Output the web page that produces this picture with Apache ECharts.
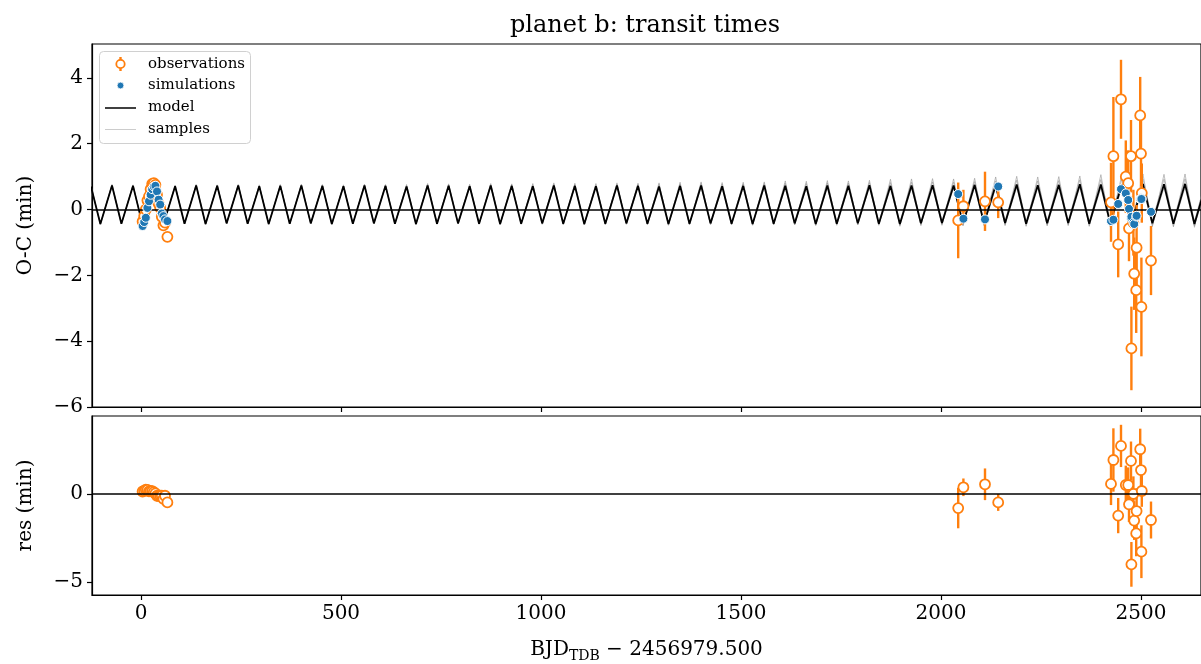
<!DOCTYPE html>
<html>
<head>
<meta charset="utf-8">
<script src="https://cdn.jsdelivr.net/npm/echarts@6/dist/echarts.min.js"></script>
<style>
    html, body { margin: 0; padding: 0; background: #fff; }
    #chart { width: 1201px; height: 664px; }
</style>
</head>
<body>
<div id="chart"></div>
<script>
// model curve: turning points (peak, trough, ...)
const modelTime = [
    -125.1, -101.6, -72.5, -49.0, -19.9, 3.6, 32.7, 56.2, 85.3, 108.8, 137.9, 161.4, 190.5, 214.0, 243.1, 266.6,
    295.7, 319.2, 348.3, 371.8, 400.9, 424.4, 453.5, 477.0, 506.1, 529.6, 558.7, 582.2, 611.3, 634.8, 663.9, 687.4,
    716.5, 740.0, 769.1, 792.6, 821.7, 845.2, 874.3, 897.8, 926.9, 950.4, 979.5, 1003.0, 1032.1, 1055.6, 1084.7, 1108.2,
    1137.3, 1160.8, 1189.9, 1213.4, 1242.5, 1266.0, 1295.1, 1318.6, 1347.7, 1371.2, 1400.3, 1423.8, 1452.9, 1476.4,
    1505.5, 1529.0, 1558.1, 1581.6, 1610.7, 1634.2, 1663.3, 1686.8, 1715.9, 1739.4, 1768.5, 1792.0, 1821.1, 1844.6,
    1873.7, 1897.2, 1926.3, 1949.8, 1978.9, 2002.4, 2031.5, 2055.0, 2084.1, 2107.6, 2136.7, 2160.2, 2189.3, 2212.8,
    2241.9, 2265.4, 2294.5, 2318.0, 2347.1, 2370.6, 2399.7, 2423.2, 2452.3, 2475.8, 2504.9, 2528.4, 2557.5, 2581.0,
    2610.1, 2633.6, 2662.7
]
const modelOC = [
    0.70, -0.44, 0.73, -0.43, 0.72, -0.45, 0.74, -0.44, 0.71, -0.43, 0.73, -0.44, 0.72, -0.42, 0.73, -0.43,
    0.71, -0.44, 0.72, -0.43, 0.73, -0.42, 0.72, -0.44, 0.71, -0.43, 0.73, -0.42, 0.72, -0.43, 0.70, -0.44,
    0.73, -0.43, 0.72, -0.42, 0.71, -0.43, 0.73, -0.44, 0.72, -0.43, 0.71, -0.42, 0.73, -0.43, 0.72, -0.44,
    0.71, -0.43, 0.73, -0.42, 0.72, -0.43, 0.70, -0.44, 0.72, -0.43, 0.73, -0.42, 0.71, -0.43,
    0.72, -0.44, 0.73, -0.43, 0.72, -0.42, 0.71, -0.44, 0.73, -0.43, 0.72, -0.42, 0.74, -0.43,
    0.72, -0.44, 0.73, -0.42, 0.74, -0.41, 0.73, -0.43, 0.75, -0.42, 0.74, -0.41, 0.76, -0.43,
    0.74, -0.42, 0.75, -0.41, 0.77, -0.43, 0.76, -0.42, 0.77, -0.44, 0.78, -0.42, 0.77, -0.43,
    0.78, -0.44, 0.77
]
// posterior samples (grey), same turning points
const sample1OC = [
    0.73, -0.45, 0.76, -0.44, 0.75, -0.46, 0.77, -0.45, 0.74, -0.44, 0.76, -0.45, 0.75, -0.43, 0.76, -0.44,
    0.75, -0.45, 0.76, -0.44, 0.77, -0.43, 0.76, -0.45, 0.75, -0.44, 0.77, -0.43, 0.76, -0.44, 0.76, -0.46,
    0.79, -0.45, 0.78, -0.44, 0.77, -0.45, 0.79, -0.46, 0.78, -0.45, 0.79, -0.45, 0.81, -0.46, 0.80, -0.47,
    0.79, -0.46, 0.81, -0.45, 0.80, -0.46, 0.81, -0.48, 0.83, -0.47, 0.84, -0.46, 0.82, -0.47,
    0.83, -0.48, 0.84, -0.47, 0.87, -0.47, 0.86, -0.49, 0.88, -0.48, 0.87, -0.47, 0.89, -0.48,
    0.92, -0.51, 0.93, -0.49, 0.94, -0.48, 0.93, -0.50, 0.95, -0.49, 0.99, -0.49, 1.01, -0.51,
    0.99, -0.50, 1.00, -0.49, 1.02, -0.51, 1.06, -0.52, 1.07, -0.54, 1.08, -0.52, 1.07, -0.53,
    1.08, -0.54, 1.07
]
const sample2OC = [
    0.72, -0.43, 0.75, -0.42, 0.74, -0.44, 0.76, -0.43, 0.73, -0.42, 0.75, -0.43, 0.74, -0.41, 0.75, -0.42,
    0.73, -0.43, 0.74, -0.42, 0.75, -0.41, 0.74, -0.43, 0.73, -0.42, 0.75, -0.41, 0.74, -0.42, 0.73, -0.42,
    0.76, -0.41, 0.75, -0.40, 0.74, -0.41, 0.76, -0.42, 0.75, -0.41, 0.75, -0.40, 0.77, -0.41, 0.76, -0.42,
    0.75, -0.41, 0.77, -0.40, 0.76, -0.41, 0.76, -0.41, 0.78, -0.40, 0.79, -0.39, 0.77, -0.40,
    0.78, -0.41, 0.79, -0.40, 0.80, -0.38, 0.79, -0.40, 0.81, -0.39, 0.80, -0.38, 0.82, -0.39,
    0.82, -0.39, 0.83, -0.37, 0.84, -0.36, 0.83, -0.38, 0.85, -0.37, 0.87, -0.35, 0.89, -0.37,
    0.87, -0.36, 0.88, -0.35, 0.90, -0.37, 0.91, -0.34, 0.92, -0.36, 0.93, -0.34, 0.92, -0.35,
    0.93, -0.36, 0.92
]
const sample3OC = [
    0.69, -0.45, 0.72, -0.44, 0.71, -0.46, 0.73, -0.45, 0.70, -0.44, 0.72, -0.45, 0.71, -0.43, 0.72, -0.44,
    0.70, -0.45, 0.71, -0.44, 0.72, -0.43, 0.71, -0.45, 0.70, -0.44, 0.72, -0.43, 0.71, -0.44, 0.68, -0.45,
    0.71, -0.44, 0.70, -0.43, 0.69, -0.44, 0.71, -0.45, 0.70, -0.44, 0.68, -0.44, 0.70, -0.45, 0.69, -0.46,
    0.68, -0.45, 0.70, -0.44, 0.69, -0.45, 0.66, -0.46, 0.68, -0.45, 0.69, -0.44, 0.67, -0.45,
    0.68, -0.46, 0.69, -0.45, 0.67, -0.45, 0.66, -0.47, 0.68, -0.46, 0.67, -0.45, 0.69, -0.46,
    0.65, -0.48, 0.66, -0.46, 0.67, -0.45, 0.66, -0.47, 0.68, -0.46, 0.66, -0.46, 0.68, -0.48,
    0.66, -0.47, 0.67, -0.46, 0.69, -0.48, 0.66, -0.48, 0.67, -0.50, 0.68, -0.48, 0.67, -0.49,
    0.68, -0.50, 0.67
]

// observed transits and simulated times at the same epochs (minutes)
const obsTime = [
    4, 8, 12, 16, 20, 24, 28, 32, 36, 40, 44, 48, 52, 56, 60, 66,
    2043, 2056, 2110, 2143,
    2425, 2431, 2443, 2450, 2462, 2468, 2470, 2475, 2476, 2481, 2483, 2488, 2489, 2498, 2500, 2502, 2501, 2525
]
const obsOC = [
    -0.36, -0.20, 0.00, 0.28, 0.40, 0.62, 0.78, 0.80, 0.75, 0.45, 0.18, 0.05, -0.22, -0.48, -0.40, -0.83,
    -0.33, 0.10, 0.25, 0.22,
    0.22, 1.62, -1.06, 3.35, 1.00, 0.80, -0.57, 1.62, -4.22, -0.40, -1.95, -2.45, -1.16, 2.86, 1.70, 0.50, -2.96, -1.55
]
const obsErr = [
    0.08, 0.07, 0.09, 0.08, 0.10, 0.07, 0.08, 0.09, 0.10, 0.08, 0.09, 0.10, 0.11, 0.09, 0.10, 0.12,
    1.15, 0.50, 0.90, 0.48,
    1.20, 1.80, 1.00, 1.20, 1.10, 1.00, 1.00, 1.10, 1.27, 1.00, 1.10, 1.30, 1.30, 1.17, 1.00, 0.90, 1.50, 1.05
]
const simOC = [
    -0.50, -0.38, -0.25, 0.05, 0.25, 0.45, 0.62, 0.70, 0.72, 0.55, 0.30, 0.15, -0.12, -0.20, -0.30, -0.35,
    0.47, -0.28, -0.30, 0.70,
    -0.35, -0.31, 0.17, 0.62, 0.49, 0.29, 0.02, -0.26, -0.22, -0.40, -0.44, -0.21, -0.19, 0.32, 0.34, 0.33, 0.32, -0.07
]

const xTicks = [0, 500, 1000, 1500, 2000, 2500]
const ocTicks = [-6, -4, -2, 0, 2, 4]
const resTicks = [-5, 0]

const ORANGE = '#ff7f0e'
const BLUE = '#1f77b4'
const FONT = "'DejaVu Serif', serif"

;(function () {
    const myChart = echarts.init(document.getElementById('chart'))

    const toPairs = (xs, ys) => xs.map((x, i) => [x, ys[i]])
    const residual = obsOC.map((v, i) => +(v - simOC[i]).toFixed(2))
    const obsRows = obsTime.map((t, i) => [t, obsOC[i], obsErr[i]])
    const resRows = obsTime.map((t, i) => [t, residual[i], obsErr[i]])

    // matplotlib style minus sign, no thousands separator
    function tickText(v) {
        return v < 0 ? '\u2212' + Math.abs(v) : String(v)
    }

    function errBar(params, api) {
        const x = api.value(0), y = api.value(1), e = api.value(2)
        const top = api.coord([x, y + e])
        const bot = api.coord([x, y - e])
        return {
            type: 'line',
            shape: { x1: top[0], y1: top[1], x2: bot[0], y2: bot[1] },
            style: { stroke: ORANGE, lineWidth: 2.4 }
        }
    }

    const axisLine = { show: true, onZero: false, lineStyle: { color: '#000', width: 1.2 } }
    const tickStyle = { color: '#000', width: 1.2 }
    const labelStyle = { color: '#000', fontSize: 20, fontFamily: FONT }

    function xAxis(idx, showLabel) {
        return {
            type: 'value',
            gridIndex: idx,
            min: -122.5,
            max: 2650,
            axisLine: axisLine,
            axisTick: { show: true, customValues: xTicks, length: 5, lineStyle: tickStyle },
            axisLabel: Object.assign({ show: showLabel, customValues: xTicks, margin: 9, formatter: tickText }, labelStyle),
            splitLine: { show: false }
        }
    }

    const sampleLine = (data) => ({
        type: 'line',
        xAxisIndex: 0,
        yAxisIndex: 0,
        data: data,
        showSymbol: false,
        silent: true,
        z: 1,
        lineStyle: { color: 'rgba(140,140,140,0.55)', width: 1 }
    })

    const zeroLine = {
        silent: true,
        symbol: 'none',
        label: { show: false },
        lineStyle: { color: '#000', width: 1.5, type: 'solid' },
        data: [{ yAxis: 0 }]
    }

    const option = {
        animation: false,
        backgroundColor: '#fff',
        title: {
            text: 'planet b: transit times',
            left: 505,
            top: 9,
            textStyle: { color: '#000', fontSize: 24, fontWeight: 'normal', fontFamily: FONT }
        },
        grid: [
            { left: 92, top: 44, width: 1109, height: 363, show: true, borderColor: '#000', borderWidth: 1.2 },
            { left: 92, top: 416, width: 1109, height: 179, show: true, borderColor: '#000', borderWidth: 1.2 }
        ],
        xAxis: [
            xAxis(0, false),
            Object.assign(xAxis(1, true), {
                name: '{a|BJD}{b|TDB}{a| \u2212 2456979.500}',
                nameLocation: 'middle',
                nameGap: 42,
                nameTextStyle: {
                    color: '#000',
                    fontFamily: FONT,
                    rich: {
                        a: { fontSize: 20, fontFamily: FONT, color: '#000', lineHeight: 26 },
                        b: { fontSize: 14, fontFamily: FONT, color: '#000', lineHeight: 26, verticalAlign: 'bottom' }
                    }
                }
            })
        ],
        yAxis: [
            {
                type: 'value',
                gridIndex: 0,
                min: -6,
                max: 5.03,
                name: 'O-C (min)',
                nameLocation: 'middle',
                nameGap: 56,
                nameTextStyle: { color: '#000', fontSize: 20, fontFamily: FONT },
                axisLine: axisLine,
                axisTick: { show: true, customValues: ocTicks, length: 5, lineStyle: tickStyle },
                axisLabel: Object.assign({ customValues: ocTicks, margin: 9, formatter: tickText }, labelStyle),
                splitLine: { show: false }
            },
            {
                type: 'value',
                gridIndex: 1,
                min: -5.74,
                max: 4.43,
                name: 'res (min)',
                nameLocation: 'middle',
                nameGap: 56,
                nameTextStyle: { color: '#000', fontSize: 20, fontFamily: FONT },
                axisLine: axisLine,
                axisTick: { show: true, customValues: resTicks, length: 5, lineStyle: tickStyle },
                axisLabel: Object.assign({ customValues: resTicks, margin: 9, formatter: tickText }, labelStyle),
                splitLine: { show: false }
            }
        ],
        series: [
            sampleLine(toPairs(modelTime, sample1OC)),
            sampleLine(toPairs(modelTime, sample2OC)),
            sampleLine(toPairs(modelTime, sample3OC)),
            {
                name: 'model',
                type: 'line',
                xAxisIndex: 0,
                yAxisIndex: 0,
                data: toPairs(modelTime, modelOC),
                showSymbol: false,
                z: 2,
                lineStyle: { color: '#000', width: 1.8 },
                markLine: zeroLine
            },
            {
                type: 'custom',
                xAxisIndex: 0,
                yAxisIndex: 0,
                renderItem: errBar,
                encode: { x: 0, y: 1 },
                data: obsRows,
                z: 3
            },
            {
                name: 'observations',
                type: 'scatter',
                xAxisIndex: 0,
                yAxisIndex: 0,
                data: toPairs(obsTime, obsOC),
                symbolSize: 10,
                z: 4,
                itemStyle: { color: '#fff', borderColor: ORANGE, borderWidth: 1.8, opacity: 1 }
            },
            {
                name: 'simulations',
                type: 'scatter',
                xAxisIndex: 0,
                yAxisIndex: 0,
                data: toPairs(obsTime, simOC),
                symbolSize: 9,
                z: 5,
                itemStyle: { color: BLUE, borderColor: '#fff', borderWidth: 1, opacity: 1 }
            },
            {
                type: 'custom',
                xAxisIndex: 1,
                yAxisIndex: 1,
                renderItem: errBar,
                encode: { x: 0, y: 1 },
                data: resRows,
                z: 3
            },
            {
                type: 'scatter',
                xAxisIndex: 1,
                yAxisIndex: 1,
                data: toPairs(obsTime, residual),
                symbolSize: 10,
                z: 4,
                itemStyle: { color: '#fff', borderColor: ORANGE, borderWidth: 1.8, opacity: 1 },
                markLine: zeroLine
            }
        ],
        // legend box drawn by hand to get the matplotlib look
        graphic: [
            {
                type: 'group',
                z: 100,
                children: [
                    { type: 'rect', shape: { x: 99.5, y: 51.5, width: 151, height: 92, r: 4 },
                      style: { fill: 'rgba(255,255,255,0.85)', stroke: '#d0d0d0', lineWidth: 1 } },
                    { type: 'line', shape: { x1: 120.5, y1: 57, x2: 120.5, y2: 71 },
                      style: { stroke: ORANGE, lineWidth: 2.4 } },
                    { type: 'circle', shape: { cx: 120.5, cy: 64, r: 4.2 },
                      style: { fill: '#fff', stroke: ORANGE, lineWidth: 1.8 } },
                    { type: 'circle', shape: { cx: 120.5, cy: 85.5, r: 3.4 },
                      style: { fill: BLUE, stroke: '#fff', lineWidth: 0.8 } },
                    { type: 'line', shape: { x1: 105, y1: 108, x2: 136, y2: 108 },
                      style: { stroke: '#000', lineWidth: 1.5 } },
                    { type: 'line', shape: { x1: 105, y1: 129.5, x2: 136, y2: 129.5 },
                      style: { stroke: '#cccccc', lineWidth: 1 } },
                    { type: 'text', x: 148, y: 64, style: { text: 'observations', fill: '#000', font: '15px ' + FONT, verticalAlign: 'middle' } },
                    { type: 'text', x: 148, y: 85.5, style: { text: 'simulations', fill: '#000', font: '15px ' + FONT, verticalAlign: 'middle' } },
                    { type: 'text', x: 148, y: 107.5, style: { text: 'model', fill: '#000', font: '15px ' + FONT, verticalAlign: 'middle' } },
                    { type: 'text', x: 148, y: 129, style: { text: 'samples', fill: '#000', font: '15px ' + FONT, verticalAlign: 'middle' } }
                ]
            }
        ]
    }

    myChart.setOption(option)

    window.addEventListener('resize', function () {
        myChart.resize()
    })
})();
</script>
</body>
</html>
